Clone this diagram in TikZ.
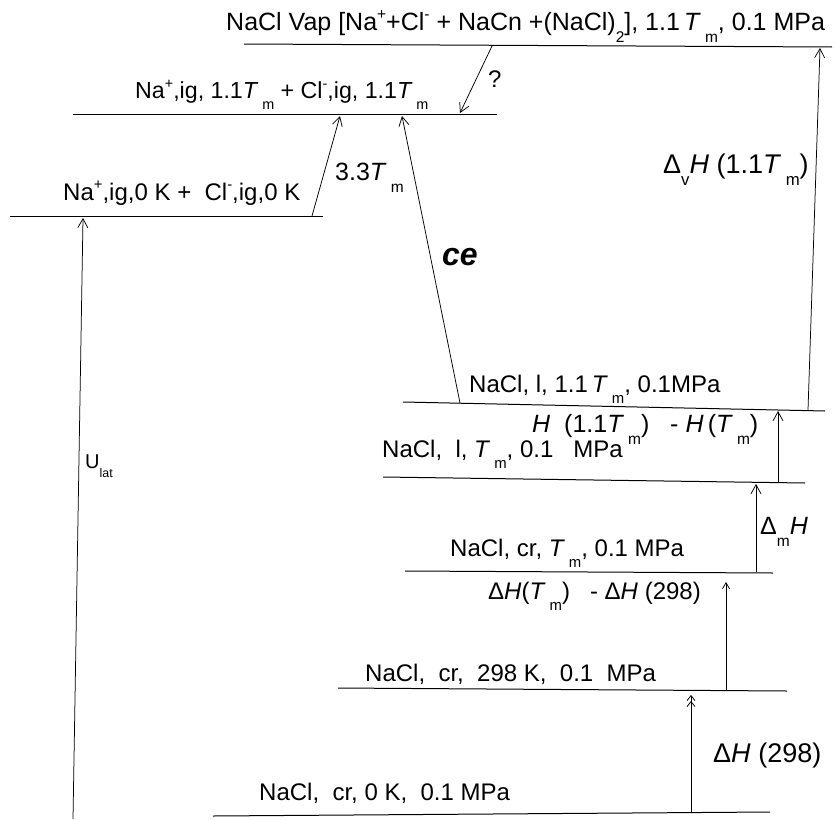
\documentclass[tikz,border=0pt]{standalone}
\usepackage{fontspec}
\setmainfont{Liberation Sans}
\usetikzlibrary{arrows.meta}
\newcommand{\lo}[1]{\raisebox{-0.48em}{\scalebox{0.62}{#1}}}
\newcommand{\hi}[1]{\raisebox{0.42em}{\scalebox{0.62}{#1}}}
\newcommand{\Tm}{\textit{T}\,\lo{m}}

\begin{document}
\begin{tikzpicture}[x=1pt, y=-1pt,
  level/.style={line width=1pt},
  trans/.style={line width=0.75pt, -{Straight Barb[length=9pt,width=10pt]}},
  txt/.style={inner sep=0pt, anchor=base west, font=\fontsize{24}{28}\selectfont},
  big/.style={inner sep=0pt, anchor=base west, font=\fontsize{25}{28}\selectfont}]

\useasboundingbox (0,0) rectangle (835,819);

% Levels
\coordinate (vapL) at (244,44);  \coordinate (vapR) at (832,47);
\coordinate (ionhL) at (73,114); \coordinate (ionhR) at (497,114);
\coordinate (ionzL) at (10,216); \coordinate (ionzR) at (323,216);
\coordinate (liqhL) at (403,402); \coordinate (liqhR) at (825,411);
\coordinate (liqmL) at (383,477); \coordinate (liqmR) at (805,483);
\coordinate (crmL) at (405,571);  \coordinate (crmR) at (773,573);
\coordinate (crrL) at (338,688);  \coordinate (crrR) at (787,691);
\coordinate (crzL) at (213,816);  \coordinate (crzR) at (770,812);

\draw[level] (vapL) -- (vapR);
\draw[level] (ionhL) -- (ionhR);
\draw[level] (ionzL) -- (ionzR);
\draw[level] (liqhL) -- (liqhR);
\draw[level] (liqmL) -- (liqmR);
\draw[level] (crmL) -- (crmR);
\draw[level] (crrL) -- (crrR);
\draw[level] (crzL) -- (crzR);

% Level texts
\node[txt, font=\fontsize{25}{28}\selectfont] (vapText) at (226,30) {NaCl Vap [Na\hi{+}+Cl\hi{-} + NaCn +(NaCl)\lo{2}], 1.1\,\Tm, 0.1 MPa};
\node[txt, font=\fontsize{23.2}{28}\selectfont] (ionhText) at (135,98) {Na\hi{+},ig, 1.1\Tm\ + Cl\hi{-},ig, 1.1\Tm};
\node[txt] (ionzText) at (63,200) {Na\hi{+},ig,0 K +\ \ Cl\hi{-},ig,0 K};
\node[txt] (liqhText) at (469,392) {NaCl, l, 1.1\,\Tm, 0.1MPa};
\node[txt] (liqmText) at (382,457) {NaCl,\ \ l,\ \Tm, 0.1\ \ \ MPa};
\node[txt] (crmText) at (450,556) {NaCl, cr, \Tm, 0.1 MPa};
\node[txt] (crrText) at (365,681) {NaCl,\ \ cr,\ \ 298 K,\ \ 0.1\ \ MPa};
\node[txt] (crzText) at (259,800) {NaCl,\ \ cr, 0 K,\ \ 0.1 MPa};

% Transitions
\coordinate (ulatS) at (73,819);
\coordinate (ulatE) at (83,218);
\coordinate (ionS) at (312,216);
\coordinate (ionE) at (340,116);
\coordinate (ceS) at (460,403);
\coordinate (ceE) at (402,116);
\coordinate (qS) at (492,46);
\coordinate (qE) at (460,113);
\coordinate (vS) at (808,410);
\coordinate (vE) at (820,48);
\coordinate (hS) at (778,482);
\coordinate (hE) at (778,411);
\coordinate (mS) at (756,572);
\coordinate (mE) at (756,484);
\coordinate (tS) at (726,690);
\coordinate (tE) at (726,582);
\coordinate (rS) at (691,813);
\coordinate (rE) at (691,695);

\draw[trans] (ulatS) -- (ulatE);
\draw[trans] (ionS) -- (ionE);
\draw[trans] (ceS) -- (ceE);
\draw[trans] (qS) -- (qE);
\draw[trans] (vS) -- (vE);
\draw[trans] (hS) -- (hE);
\draw[trans] (mS) -- (mE);
\draw[line width=0.75pt, -{Straight Barb[length=6pt,width=7pt]}] (tS) -- (tE);
\draw[line width=0.75pt, -{Straight Barb[length=5pt,width=8pt]Straight Barb[length=5pt,width=8pt]}] (rS) -- (rE);

% Transition labels
\node[inner sep=0pt, anchor=base west, font=\fontsize{20}{24}\selectfont] (ulatText) at (85,468) {U\lo{lat}};
\node[big] (ionLab) at (335,180) {3.3\Tm};
\node[big, font=\fontsize{32}{36}\selectfont\bfseries\itshape] (ceLab) at (442,265) {ce};
\node[txt] (qLab) at (488,87) {?};
\node[big, font=\fontsize{27}{30}\selectfont] (vLab) at (663,173) {Δ\lo{v}\textit{H} (1.1\Tm)};
\node[txt, font=\fontsize{25}{28}\selectfont] (hLab) at (532,432) {\textit{H}\ \ (1.1\Tm)\ \ \ - \textit{H}\,(\Tm)};
\node[big] (mLab) at (760,534) {Δ\lo{m}\textit{H}};
\node[txt] (tLab) at (488,599) {Δ\textit{H}(\Tm)\ \ \ - Δ\textit{H} (298)};
\node[big, font=\fontsize{27}{30}\selectfont] (rLab) at (713,762) {Δ\textit{H} (298)};

\end{tikzpicture}
\end{document}
